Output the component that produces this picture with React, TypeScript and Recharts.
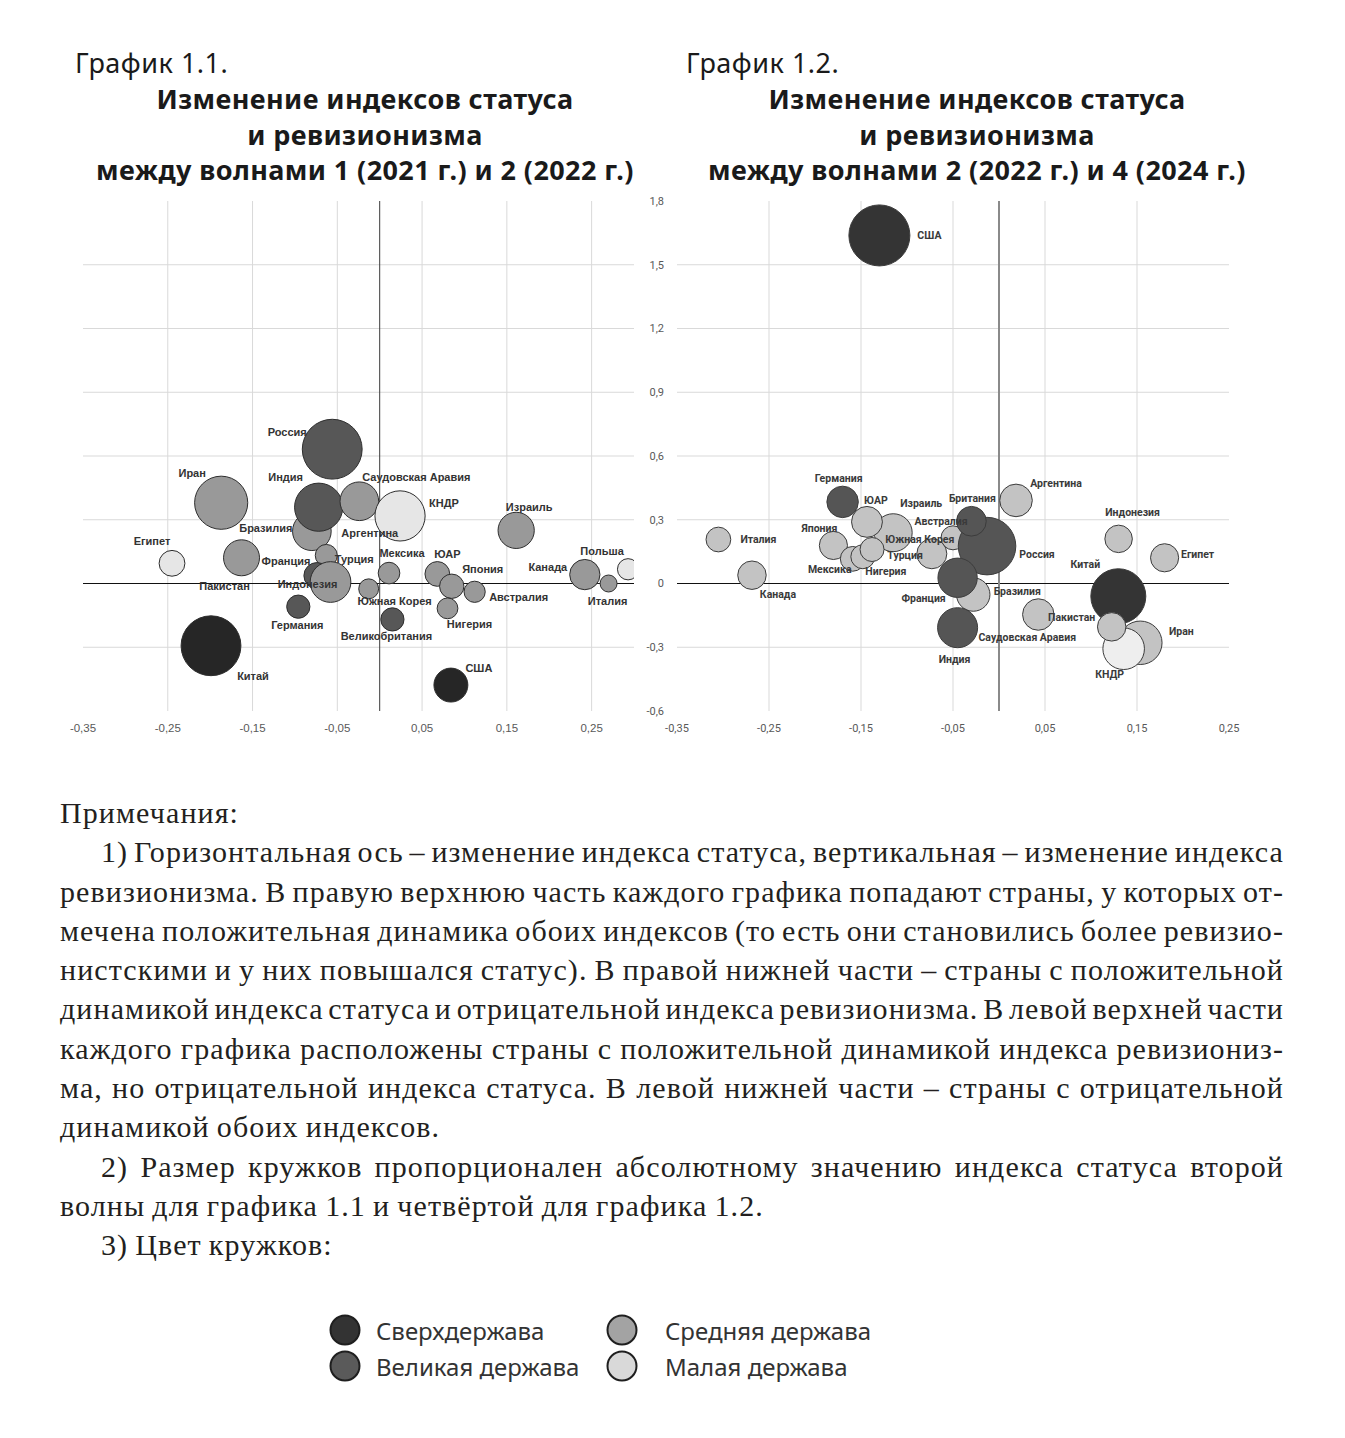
import React from "react";
import { ScatterChart, Scatter, XAxis, YAxis, ZAxis, ReferenceLine } from "recharts";

// ---------- График 1.1 : волна 1 (2021) -> волна 2 (2022) ----------
const COUNTRIES_1 = [
  "Аргентина", "Бразилия", "Индия", "Россия", "Иран", "Саудовская Аравия", "КНДР",
  "Египет", "Пакистан", "Турция", "Франция", "Индонезия", "Мексика", "Южная Корея",
  "Германия", "Великобритания", "Китай", "США", "ЮАР", "Япония", "Австралия",
  "Нигерия", "Израиль", "Канада", "Италия", "Польша",
];
const STATUS_DELTA_1 = [
  -0.066, -0.08, -0.072, -0.056, -0.187, -0.024, 0.024,
  -0.245, -0.163, -0.063, -0.074, -0.058, 0.011, -0.013,
  -0.096, 0.015, -0.199, 0.084, 0.068, 0.085, 0.112,
  0.08, 0.161, 0.242, 0.27, 0.293,
];
const REVISION_DELTA_1 = [
  0.33, 0.246, 0.359, 0.632, 0.38, 0.387, 0.318,
  0.095, 0.121, 0.132, 0.037, 0.007, 0.049, -0.025,
  -0.109, -0.169, -0.293, -0.478, 0.045, -0.013, -0.039,
  -0.117, 0.25, 0.042, 0.0, 0.067,
];
const STATUS_ABS_1 = [
  0.44, 0.83, 1.29, 1.99, 1.57, 0.83, 1.4,
  0.37, 0.72, 0.27, 0.38, 0.92, 0.26, 0.22,
  0.3, 0.3, 1.99, 0.64, 0.34, 0.33, 0.25,
  0.24, 0.73, 0.51, 0.16, 0.25,
];
const POWER_1 = [
  "mid", "mid", "great", "great", "mid", "mid", "small",
  "small", "mid", "mid", "great", "mid", "mid", "mid",
  "great", "great", "super", "super", "mid", "mid", "mid",
  "mid", "mid", "mid", "mid", "small",
];

// ---------- График 1.2 : волна 2 (2022) -> волна 4 (2024) ----------
const COUNTRIES_2 = [
  "США", "Италия", "Канада", "Израиль", "Германия", "ЮАР", "Япония", "Мексика",
  "Нигерия", "Турция", "Австралия", "Россия", "Британия", "Южная Корея", "Аргентина",
  "Бразилия", "Франция", "Индия", "Саудовская Аравия", "Индонезия", "Египет",
  "Китай", "Иран", "КНДР", "Пакистан",
];
const STATUS_DELTA_2 = [
  -0.13, -0.305, -0.2685, -0.115, -0.17, -0.1435, -0.18, -0.159,
  -0.148, -0.138, -0.05, -0.013, -0.03, -0.073, 0.0185,
  -0.028, -0.045, -0.045, 0.0427, 0.13, 0.18,
  0.1297, 0.1536, 0.1355, 0.1225,
];
const REVISION_DELTA_2 = [
  1.638, 0.207, 0.039, 0.239, 0.384, 0.29, 0.179, 0.116,
  0.126, 0.16, 0.215, 0.176, 0.293, 0.14, 0.391,
  -0.052, 0.027, -0.208, -0.146, 0.21, 0.121,
  -0.06, -0.279, -0.307, -0.204,
];
const STATUS_ABS_2 = [
  2.07, 0.34, 0.45, 0.8, 0.55, 0.53, 0.44, 0.34,
  0.32, 0.32, 0.32, 1.84, 0.49, 0.5, 0.59,
  0.62, 0.86, 0.89, 0.55, 0.42, 0.44,
  1.68, 1.05, 0.96, 0.45,
];
const POWER_2 = [
  "super", "mid", "mid", "mid", "great", "mid", "mid", "mid",
  "mid", "mid", "mid", "great", "great", "mid", "mid",
  "mid", "great", "great", "mid", "mid", "mid",
  "super", "mid", "small", "mid",
];

// ---------- axes ----------
const X_TICKS = [-0.35, -0.25, -0.15, -0.05, 0.05, 0.15, 0.25];
const Y_TICKS = [-0.6, -0.3, 0, 0.3, 0.6, 0.9, 1.2, 1.5, 1.8];
const X_GRID_1 = [-0.25, -0.15, -0.05, 0.05, 0.15, 0.25];
const X_GRID_2 = [-0.25, -0.15, -0.05, 0.05, 0.15];
const Y_GRID = [-0.3, 0.3, 0.6, 0.9, 1.2, 1.5];

const LEGEND = [
  { key: "super", label: "Сверхдержава" },
  { key: "great", label: "Великая держава" },
  { key: "mid", label: "Средняя держава" },
  { key: "small", label: "Малая держава" },
];

// label placement (px from bubble centre)
const LABEL_AT_1: Record<string, [number, number]> = {
  "Аргентина": [46, 20], "Бразилия": [-46, -3], "Индия": [-33, -30], "Россия": [-45, -17],
  "Иран": [-29, -30], "Саудовская Аравия": [57, -24], "КНДР": [44, -13], "Египет": [-20, -22],
  "Пакистан": [-17, 28], "Турция": [28, 4], "Франция": [-31, -15], "Индонезия": [-23, 2],
  "Мексика": [13, -20], "Южная Корея": [26, 12], "Германия": [-1, 18], "Великобритания": [-6, 17],
  "Китай": [42, 30], "США": [28, -17], "ЮАР": [10, -20], "Япония": [31, -17],
  "Австралия": [44, 5], "Нигерия": [22, 16], "Израиль": [13, -23], "Канада": [-37, -8],
  "Италия": [-1, 17], "Польша": [-26, -18],
};
const LABEL_AT_2: Record<string, [number, number]> = {
  "США": [50, 0], "Италия": [40, 0], "Канада": [26, 19], "Израиль": [28, -29],
  "Германия": [-4, -23], "ЮАР": [9, -21], "Япония": [-14, -17], "Мексика": [-23, 11],
  "Нигерия": [23, 15], "Турция": [33, 6], "Австралия": [-12, -16], "Россия": [50, 8],
  "Британия": [1, -23], "Южная Корея": [-12, -14], "Аргентина": [40, -17], "Бразилия": [44, -3],
  "Франция": [-34, 21], "Индия": [-3, 32], "Саудовская Аравия": [-11, 23], "Индонезия": [14, -26],
  "Египет": [33, -3], "Китай": [-33, -32], "Иран": [41, -11], "КНДР": [-14, 26],
  "Пакистан": [-40, -9],
};

const PALETTE_1 = { super: "#262626", great: "#575757", mid: "#999999", small: "#e6e6e6" };
const PALETTE_2 = { super: "#343434", great: "#555555", mid: "#c3c3c3", small: "#eeeeee" };
const PALETTE_LEGEND = { super: "#333333", great: "#5a5a5a", mid: "#a3a3a3", small: "#d9d9d9" };

const Z_MAX = 2.2;
const Z_RANGE = [0, Math.PI * 450 * Z_MAX];

function buildRows(names, xs, ys, zs, powers) {
  return names.map((name, i) => ({ name, x: xs[i], y: ys[i], z: zs[i], power: powers[i] }));
}
const DATA_1 = buildRows(COUNTRIES_1, STATUS_DELTA_1, REVISION_DELTA_1, STATUS_ABS_1, POWER_1);
const DATA_2 = buildRows(COUNTRIES_2, STATUS_DELTA_2, REVISION_DELTA_2, STATUS_ABS_2, POWER_2);

const fmt = (v: number) => String(Math.round(v * 100) / 100).replace(".", ",");

function Panel({ data, xGrid, showY, palette, outline, labelAt, labelFont, labelSize, labelColor, tickFont, tickSize, zeroX, left, width }) {
  const bubble = (p) => {
    const r = Math.sqrt(Math.max(p.size, 0) / Math.PI);
    return <circle cx={p.cx} cy={p.cy} r={r} fill={palette[p.payload.power]} stroke={outline} strokeWidth={1} />;
  };
  const label = (p) => {
    const off = labelAt[p.payload.name];
    if (!off) return <g />;
    return (
      <text x={p.cx + off[0]} y={p.cy + off[1]} textAnchor="middle" dominantBaseline="central"
        fontFamily={labelFont} fontWeight={700} fontSize={labelSize} fill={labelColor}>
        {p.payload.name}
      </text>
    );
  };
  return (
    <div style={{ position: "absolute", left, top: 190 }}>
      <ScatterChart width={width} height={560}
        margin={showY ? { top: 11, right: 31, bottom: 9, left: 17 } : { top: 11, right: 26, bottom: 9, left: 43 }}>
        <XAxis type="number" dataKey="x" domain={[-0.35, showY ? 0.25 : 0.3]} ticks={X_TICKS} interval={0}
          allowDataOverflow tickFormatter={fmt} axisLine={false} tickLine={false} tickMargin={7}
          tick={{ fontSize: tickSize, fill: "#595959", fontFamily: tickFont }} />
        <YAxis type="number" dataKey="y" domain={[-0.6, 1.8]} ticks={Y_TICKS} interval={0} hide={!showY}
          allowDataOverflow width={60} tickFormatter={fmt} axisLine={false} tickLine={false} tickMargin={7}
          tick={{ fontSize: tickSize, fill: "#595959", fontFamily: tickFont }} />
        <ZAxis type="number" dataKey="z" domain={[0, Z_MAX]} range={Z_RANGE} />
        {xGrid.map((v) => (
          <ReferenceLine key={"vx" + v} x={v} stroke="#d9d9d9" strokeWidth={1} />
        ))}
        {Y_GRID.map((v) => (
          <ReferenceLine key={"hy" + v} y={v} stroke="#d9d9d9" strokeWidth={1} />
        ))}
        <ReferenceLine y={0} stroke="#111111" strokeWidth={1} />
        <ReferenceLine x={0} stroke={zeroX.color} strokeWidth={zeroX.width} />
        <Scatter data={data} shape={bubble} isAnimationActive={false} />
        <Scatter data={data} shape={label} isAnimationActive={false} />
      </ScatterChart>
    </div>
  );
}

const NOTE_LINES = [
  { text: "Примечания:", indent: false, justify: false },
  { text: "1) Горизонтальная ось – изменение индекса статуса, вертикальная – изменение индекса", indent: true, justify: true },
  { text: "ревизионизма. В правую верхнюю часть каждого графика попадают страны, у которых от-", indent: false, justify: true },
  { text: "мечена положительная динамика обоих индексов (то есть они становились более ревизио-", indent: false, justify: true },
  { text: "нистскими и у них повышался статус). В правой нижней части – страны с положительной", indent: false, justify: true },
  { text: "динамикой индекса статуса и отрицательной индекса ревизионизма. В левой верхней части", indent: false, justify: true },
  { text: "каждого графика расположены страны с положительной динамикой индекса ревизиониз-", indent: false, justify: true },
  { text: "ма, но отрицательной индекса статуса. В левой нижней части – страны с отрицательной", indent: false, justify: true },
  { text: "динамикой обоих индексов.", indent: false, justify: false },
  { text: "2) Размер кружков пропорционален абсолютному значению индекса статуса второй", indent: true, justify: true },
  { text: "волны для графика 1.1 и четвёртой для графика 1.2.", indent: false, justify: false },
  { text: "3) Цвет кружков:", indent: true, justify: false },
];

function Title({ num, waves, left, center }) {
  return (
    <>
      <div style={{ position: "absolute", left, top: 45, fontFamily: "Noto Sans", fontSize: 27, letterSpacing: 0.5, lineHeight: "36px", color: "#1a1a1a", whiteSpace: "nowrap" }}>
        {num}
      </div>
      <div style={{ position: "absolute", left: center - 320, width: 640, top: 81, textAlign: "center", fontFamily: "Noto Sans", fontWeight: 700, fontSize: 27, letterSpacing: 0.4, lineHeight: "35.5px", color: "#1a1a1a" }}>
        <div>Изменение индексов статуса</div>
        <div>и ревизионизма</div>
        <div>{waves}</div>
      </div>
    </>
  );
}

export default function App() {
  return (
    <div style={{ position: "relative", width: 1345, height: 1438, margin: -8, background: "#ffffff", overflow: "hidden" }}>
      <Title num="График 1.1." waves="между волнами 1 (2021 г.) и 2 (2022 г.)" left={75} center={365} />
      <Title num="График 1.2." waves="между волнами 2 (2022 г.) и 4 (2024 г.)" left={686} center={977} />

      <Panel data={DATA_1} xGrid={X_GRID_1} showY={false} palette={PALETTE_1} outline="#2e2e2e"
        labelAt={LABEL_AT_1} labelFont="Liberation Sans" labelSize={11} labelColor="#333333"
        tickFont="Liberation Sans" tickSize={11.5}
        zeroX={{ color: "#3a3a3a", width: 1 }} left={40} width={620} />
      <Panel data={DATA_2} xGrid={X_GRID_2} showY={true} palette={PALETTE_2} outline="#3c3c3c"
        labelAt={LABEL_AT_2} labelFont="Roboto" labelSize={10.5} labelColor="#3a3a3a"
        tickFont="Roboto" tickSize={11}
        zeroX={{ color: "#8a8a8a", width: 2 }} left={600} width={660} />

      <div style={{ position: "absolute", left: 60, width: 1224, top: 793, fontFamily: "Liberation Serif", fontSize: 30, letterSpacing: 1.1, lineHeight: "39.3px", color: "#231f20" }}>
        {NOTE_LINES.map((l, i) => (
          <div key={i} style={{ paddingLeft: l.indent ? 41 : 0, wordSpacing: l.justify ? -4 : -1.5, textAlign: l.justify ? "justify" : "left", textAlignLast: l.justify ? "justify" : "left", whiteSpace: "nowrap" }}>
            {l.text}
          </div>
        ))}
      </div>

      <svg style={{ position: "absolute", left: 300, top: 1300 }} width={600} height={100}>
        {LEGEND.map((item, i) => {
          const col = Math.floor(i / 2);
          const row = i % 2;
          const cx = col === 0 ? 45 : 322;
          const cy = row === 0 ? 30 : 66;
          return (
            <g key={item.key}>
              <circle cx={cx} cy={cy} r={14.5} fill={PALETTE_LEGEND[item.key]} stroke="#1f1f1f" strokeWidth={2} />
              <text x={col === 0 ? 76 : 365} y={cy} dominantBaseline="central" fontFamily="Noto Sans" fontSize={24} fill="#333333">
                {item.label}
              </text>
            </g>
          );
        })}
      </svg>
    </div>
  );
}
